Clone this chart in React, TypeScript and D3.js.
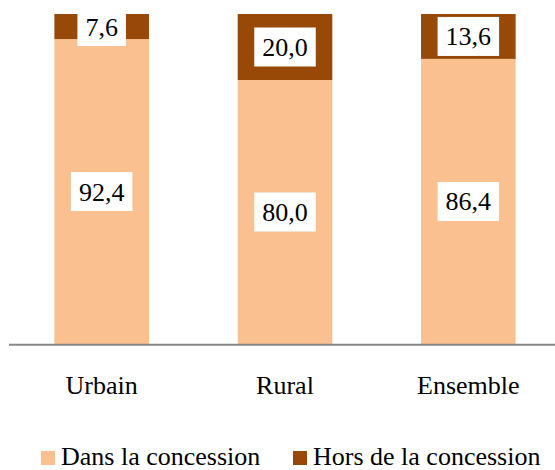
import * as d3 from "d3";

const categories = ["Urbain", "Rural", "Ensemble"];
const dansValues = [92.4, 80.0, 86.4];
const horsValues = [7.6, 20.0, 13.6];
const seriesNames = ["Dans la concession", "Hors de la concession"];
const seriesColors = ["#FAC090", "#984807"];

/** svg dimensions */
const width = 555;
const height = 470;
const fontSize = 26;
const textStyle = { fontFamily: "'Times New Roman', 'Liberation Serif', serif", fontSize: `${fontSize}px` };

const fmt = (v: number) => v.toFixed(1).replace(".", ",");
// Times metrics: digits 0.5em, comma 0.25em
const labelWidth = (s: string) =>
  s.split("").reduce((a, c) => a + (c === "," ? 0.25 : 0.5), 0) * fontSize;

const x = d3
  .scaleBand<string>()
  .domain(categories)
  .range([10, 560])
  .paddingInner(0.484)
  .paddingOuter(0.242);
const y = d3.scaleLinear().domain([0, 100]).range([344, 14]);

const stack = d3.stack<number>().keys(["0", "1"]).value((i, k) =>
  k === "0" ? dansValues[i] : horsValues[i]
);
const series = stack(categories.map((_, i) => i));

const App = () => {
  return (
    <svg width={width} height={height} style={{ position: "absolute", left: 0, top: 0 }}>
      {/* bars */}
      {series.map((s, si) =>
        s.map((d, i) => (
          <rect
            key={`${si}-${i}`}
            x={x(categories[i])}
            y={y(d[1])}
            width={x.bandwidth()}
            height={y(d[0]) - y(d[1])}
            fill={seriesColors[si]}
          />
        ))
      )}
      {/* axis line */}
      <line x1={9} x2={width} y1={y(0) + 0.7} y2={y(0) + 0.7} stroke="#878787" strokeWidth={2} />
      {/* data labels */}
      {series.map((s, si) =>
        s.map((d, i) => {
          const v = si === 0 ? dansValues[i] : horsValues[i];
          const label = fmt(v);
          const w = labelWidth(label);
          const cx = x(categories[i])! + x.bandwidth() / 2;
          const cy = (y(d[0]) + y(d[1])) / 2;
          return (
            <g key={`l-${si}-${i}`}>
              <rect x={cx - w / 2 - 8} y={cy - 19.5} width={w + 16} height={39} fill="white" />
              <text x={cx} y={cy + 9} textAnchor="middle" style={textStyle} fill="#000">
                {label}
              </text>
            </g>
          );
        })
      )}
      {/* category labels */}
      {categories.map((c) => (
        <text key={c} x={x(c)! + x.bandwidth() / 2} y={394} textAnchor="middle" style={textStyle} fill="#000">
          {c}
        </text>
      ))}
      {/* legend */}
      {seriesNames.map((name, i) => {
        const lx = [41, 293][i];
        return (
          <g key={name}>
            <rect x={lx} y={451} width={14} height={14} fill={seriesColors[i]} />
            <text x={lx + 20} y={465} style={textStyle} fill="#000">
              {name}
            </text>
          </g>
        );
      })}
    </svg>
  );
};

export default App;
